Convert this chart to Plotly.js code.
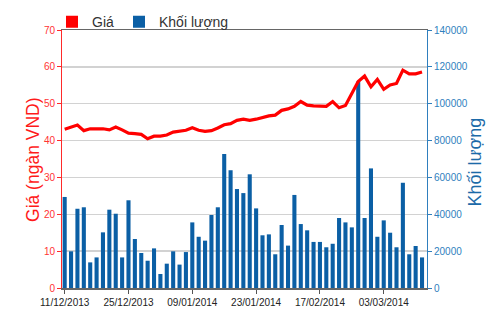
<!DOCTYPE html>
<html>
<head>
<meta charset="utf-8">
<script src="https://cdn.plot.ly/plotly-3.0.1.min.js"></script>
<style>html,body{margin:0;padding:0;background:#fff;}#chart{width:500px;height:312px;}</style>
</head>
<body>
<div id="chart"></div>
<script>
// Category index (trading sessions) and tick labels
const sessionIndex = [0,1,2,3,4,5,6,7,8,9,10,11,12,13,14,15,16,17,18,19,20,21,22,23,24,25,26,27,28,29,30,31,32,33,34,35,36,37,38,39,40,41,42,43,44,45,46,47,48,49,50,51,52,53,54,55,56];
const tickIndex = [0,10,20,30,40,50];
const tickLabels = ["11/12/2013","25/12/2013","09/01/2014","23/01/2014","17/02/2014","03/03/2014"];

// Price (thousand VND)
const price = [43.1,43.6,44.2,42.7,43.2,43.2,43.2,42.9,43.7,42.9,
               42.0,41.9,41.7,40.5,41.2,41.2,41.5,42.3,42.6,42.8,
               43.5,42.8,42.5,42.7,43.4,44.3,44.6,45.5,45.8,45.5,
               45.8,46.3,46.7,46.9,48.2,48.6,49.3,50.6,49.6,49.4,
               49.4,49.3,50.6,48.9,49.5,52.8,56.0,57.5,54.6,56.6,
               53.9,55.1,55.5,59.1,58.1,58.1,58.6];

// Volume
const volume = [49400,19900,43000,43800,13900,16600,30200,42500,40300,16600,
                47600,26600,19000,14800,21500,7600,13200,19900,12700,19500,
                35600,27800,25700,39600,43800,72700,63900,53700,51500,61700,
                43200,28600,29100,18300,34200,23000,50500,34700,31300,25000,
                25000,22100,24000,38000,35600,32900,112000,38000,64900,27800,
                36700,30000,22100,57100,18300,22800,16600];

const seriesNames = ["Giá","Khối lượng"];
const leftTitle = "Giá (ngàn VND)";
const rightTitle = "Khối lượng";

const RED = "#ff0000";
const BLUE = "#0b5fa5";
const BLUE_AXIS = "#2f7fbe";
const FONT = "Liberation Sans, Arial, sans-serif";

const data = [
  {type:"bar", x:[null], y:[null], name:seriesNames[0], marker:{color:RED}, yaxis:"y", hoverinfo:"skip"},
  {type:"bar", x:sessionIndex, y:volume, name:seriesNames[1], marker:{color:BLUE, line:{width:0}}, yaxis:"y"},
  {type:"scatter", mode:"lines", x:sessionIndex, y:price, name:seriesNames[0], showlegend:false,
   line:{color:RED, width:3.2, shape:"linear"}, yaxis:"y2"}
];

const layout = {
  width:500, height:312,
  margin:{l:62, r:73, t:30, b:24, autoexpand:false},
  paper_bgcolor:"#ffffff", plot_bgcolor:"#ffffff",
  barmode:"overlay", bargap:0.36,
  showlegend:true,
  legend:{orientation:"h", xref:"container", yref:"container", x:0.104, xanchor:"left", y:0.98, yanchor:"top",
          font:{family:FONT, size:14, color:"#333"}, bgcolor:"rgba(0,0,0,0)", traceorder:"normal"},
  xaxis:{range:[-0.42,56.78], tickmode:"array", tickvals:tickIndex, ticktext:tickLabels,
         showgrid:false, zeroline:false, showline:true, linecolor:"#666", linewidth:1.5, mirror:true,
         ticks:"outside", ticklen:4, tickcolor:"#555", tickfont:{family:FONT, size:10, color:"#222"}},
  yaxis:{range:[0,140000], dtick:20000, tickformat:"d", side:"right", showline:true, linecolor:BLUE_AXIS, linewidth:1,
         ticks:"outside", ticklen:4, tickcolor:BLUE_AXIS, tickfont:{family:FONT, size:10, color:BLUE_AXIS},
         showgrid:true, gridcolor:"#d2d2d2", gridwidth:1.5, zeroline:false},
  yaxis2:{range:[0,70], dtick:10, side:"left", overlaying:"y", showline:true, linecolor:"#ff2a2a", linewidth:1,
          ticks:"outside", ticklen:4, tickcolor:"#ff2a2a", tickfont:{family:FONT, size:10, color:"#ff3333"},
          showgrid:false, zeroline:false},
  annotations:[
    {text:leftTitle, xref:"paper", yref:"paper", x:-0.0795, y:0.5, xanchor:"center", yanchor:"middle",
     textangle:-90, showarrow:false, font:{family:FONT, size:17.5, color:"#ff1a1a"}},
    {text:rightTitle, xref:"paper", yref:"paper", x:1.1315, y:0.49, xanchor:"center", yanchor:"middle",
     textangle:-90, showarrow:false, font:{family:FONT, size:18, color:"#1c6aa8"}}
  ]
};

Plotly.newPlot("chart", data, layout, {staticPlot:true, displayModeBar:false});
</script>
</body>
</html>
